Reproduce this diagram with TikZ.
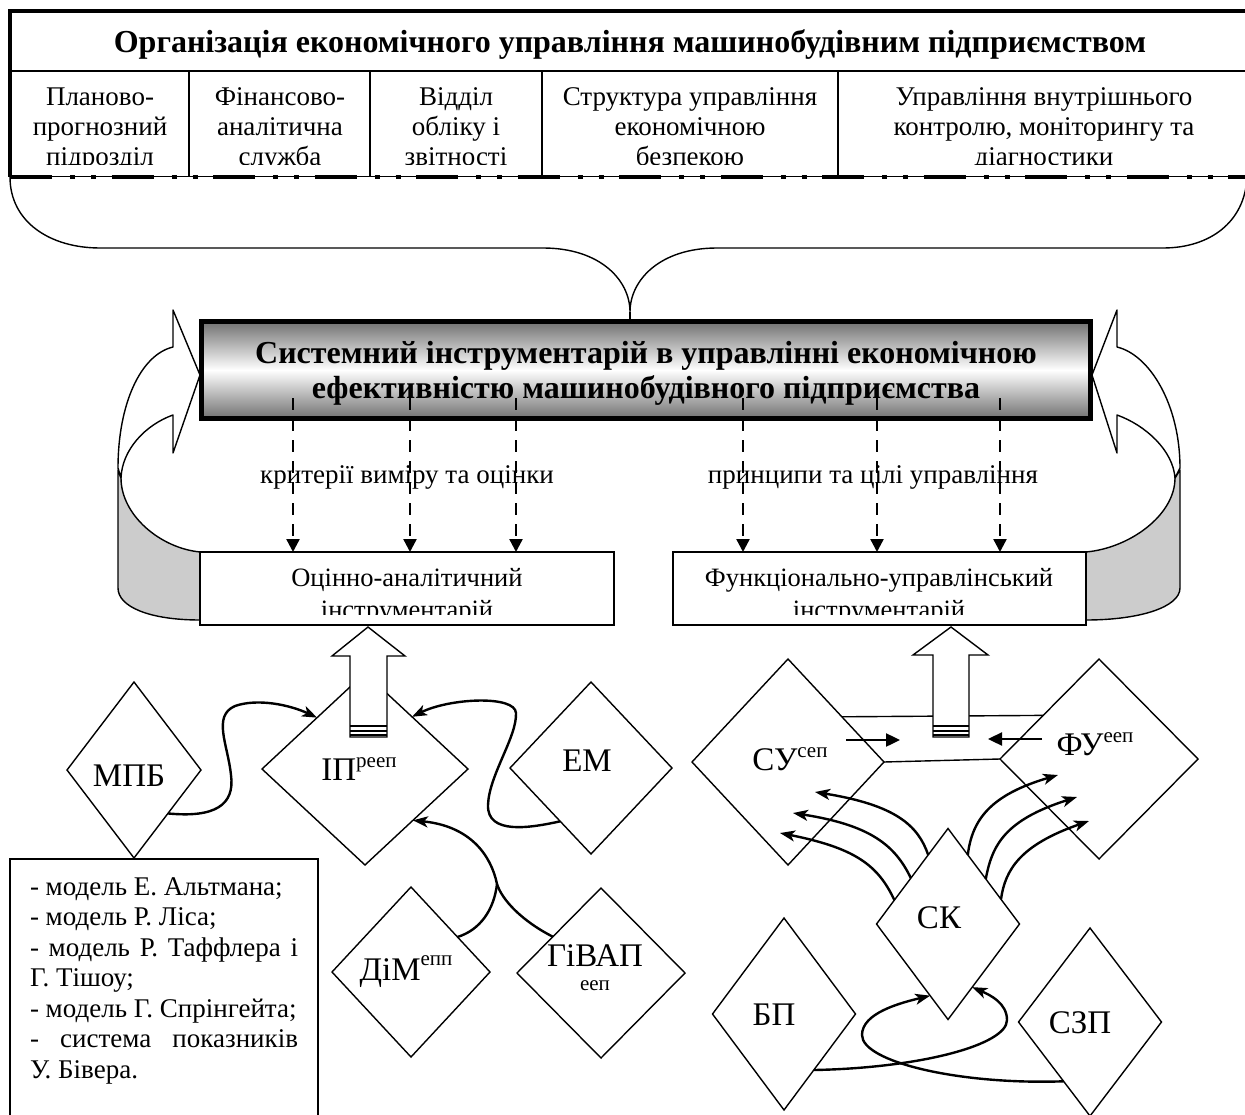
\documentclass[tikz,border=0pt]{standalone}
\usepackage{fontspec}
\setmainfont{Liberation Serif}
\usetikzlibrary{shapes.geometric,arrows.meta,calc}
\newcommand\upidx[2][13pt]{\raisebox{#1}{\fontsize{21}{23}\selectfont #2}}
\begin{document}
\begin{tikzpicture}[x=1pt,y=-1pt,
  every node/.style={inner sep=0pt,outer sep=0pt},
  thinrule/.style={line width=1.4pt},
  dia/.style={draw,shape=diamond,line width=1.4pt,fill=white,inner sep=0pt},
  dtext/.style={anchor=base,font=\fontsize{33}{35}\selectfont},
  cell/.style={anchor=base,font=\fontsize{27}{30}\selectfont},
  boxtext/.style={anchor=base,font=\fontsize{26.5}{31}\selectfont},
  flow/.style={line width=2.4pt,-{Stealth[length=15pt,width=11pt,inset=4pt]}},
  dashflow/.style={line width=2.4pt,dash pattern=on 12pt off 9pt,-{Triangle[length=13pt,width=13pt]}},
  push/.style={line width=2.4pt,-{Triangle[length=14pt,width=13pt]}},
  ribbon/.style={line width=1.4pt,line join=round}]

\useasboundingbox (0,0) rectangle (1245,1115);
\clip (0,0) rectangle (1245,1115);

% ---------- organisation table ----------
\draw[line width=4pt] (1260,11) -- (10,11) -- (10,177);
\draw[thinrule] (10,71) -- (1260,71);
\foreach \cx in {189,370,542,838} \draw[thinrule] (\cx,71) -- (\cx,177);
\node[anchor=base,font=\fontsize{32}{36}\selectfont\bfseries] (title) at (630,53)
  {Організація економічного управління машинобудівним підприємством};
\begin{scope}
  \clip (10,71) rectangle (1260,164.5);
  \node[cell] (c1) at (100,106) {\parbox[t]{178pt}{\centering Планово-\\прогнозний\\підрозділ}};
  \node[cell] (c2) at (280,106) {\parbox[t]{178pt}{\centering Фінансово-\\аналітична\\служба}};
  \node[cell] (c3) at (456,106) {\parbox[t]{170pt}{\centering Відділ\\обліку і\\звітності}};
  \node[cell] (c4) at (690,106) {\parbox[t]{295pt}{\centering Структура управління\\економічною\\безпекою}};
  \node[cell] (c5) at (1044,106) {\parbox[t]{400pt}{\centering Управління внутрішнього\\контролю, моніторингу та\\діагностики}};
\end{scope}
\draw[line width=1pt] (10,177) -- (1260,177);
\draw[line width=4pt,dash pattern=on 42pt off 18pt on 5pt off 16pt on 5pt off 15.5pt] (10,177) -- (1260,177);

% ---------- brace ----------
\coordinate (bt) at (630,312);
\draw[thinrule] (10,177) .. controls (10,222) and (50,248) .. (100,248) -- (543,248)
  .. controls (600,248) and (630,280) .. (bt)
  .. controls (630,280) and (660,248) .. (717,248) -- (1163,248)
  .. controls (1210,248) and (1245,222) .. (1247,177);

% ---------- side ribbons ----------
\draw[ribbon,fill=black!20] (118,470) -- (118,588) .. controls (118,607) and (150,620) .. (200,620)
  -- (200,552) .. controls (160,548) and (121,515) .. (121,478) -- cycle;
\draw[ribbon,fill=white] (200,375) -- (173,310) -- (173,347) .. controls (140,355) and (118,405) .. (118,468)
  -- (121,478) .. controls (122,450) and (145,425) .. (173,415) -- (173,453) -- cycle;
\draw[ribbon,fill=black!20] (1180,470) -- (1180,588) .. controls (1180,607) and (1140,620) .. (1086,620)
  -- (1086,552) .. controls (1130,548) and (1175,515) .. (1175,478) -- cycle;
\draw[ribbon,fill=white] (1092,375) -- (1117,310) -- (1117,347) .. controls (1150,355) and (1180,405) .. (1180,468)
  -- (1175,478) .. controls (1173,450) and (1145,425) .. (1117,415) -- (1117,453) -- cycle;

% ---------- system box ----------
\node[draw,line width=5pt,minimum width=889pt,minimum height=96pt,
  top color=black!55,bottom color=black!55,middle color=white] (sys) at (645.5,370) {};
\draw[thinrule] (bt) -- (bt |- sys.north);
\node[anchor=base,font=\fontsize{32}{35}\selectfont\bfseries] (sysA) at (646,363)
  {Системний інструментарій в управлінні економічною};
\node[anchor=base,font=\fontsize{32}{35}\selectfont\bfseries] (sysB) at (646,398)
  {ефективністю машинобудівного підприємства};

% ---------- two toolkits ----------
\node[draw,line width=2pt,fill=white,minimum width=414pt,minimum height=73pt] (oa) at (407,588.5) {};
\node[draw,line width=2pt,fill=white,minimum width=413pt,minimum height=73pt] (fui) at (879.5,588.5) {};
\begin{scope}
  \clip (195,552) rectangle (1090,614.5);
  \node[boxtext] (oaA) at (407,586) {Оцінно-аналітичний};
  \node[boxtext] (oaB) at (407,618) {інструментарій};
  \node[boxtext] (fuiA) at (879,586) {Функціонально-управлінський};
  \node[boxtext] (fuiB) at (879,618) {інструментарій};
\end{scope}

\node[anchor=base,font=\fontsize{27}{30}\selectfont] (crit) at (407,483) {критерії виміру та оцінки};
\node[anchor=base,font=\fontsize{27}{30}\selectfont] (princ) at (873,483) {принципи та цілі управління};
\foreach \dx in {93,210,316}
  \draw[dashflow] ($(oa.north west |- sys.south)+(\dx,-20)$) -- ($(oa.north west)+(\dx,0)$);
\foreach \dx in {70,204,327}
  \draw[dashflow] ($(fui.north west |- sys.south)+(\dx,-20)$) -- ($(fui.north west)+(\dx,0)$);

% ---------- diamonds ----------
\node[dia,minimum width=134pt,minimum height=176pt] (mpb) at (134,770) {};
\node[dia,minimum width=206pt,minimum height=192pt] (ip) at (365,769) {};
\node[dia,minimum width=162pt,minimum height=172pt] (em) at (591,768) {};
\node[dia,minimum width=158pt,minimum height=170pt] (dim) at (411,972) {};
\node[dia,minimum width=168pt,minimum height=170pt] (givap) at (601,973) {};
\node[dia,minimum width=192pt,minimum height=206pt] (su) at (788,762) {};
\node[dia,minimum width=198pt,minimum height=200pt] (fu) at (1099,759) {};
\node[dia,minimum width=143pt,minimum height=191pt] (sk) at (948,924) {};
\node[dia,minimum width=143pt,minimum height=192pt] (bp) at (784,1014) {};
\node[dia,minimum width=143pt,minimum height=188pt] (szp) at (1090,1022) {};

\node[dtext] (mpbT) at (129,786) {МПБ};
\node[dtext] (ipT) at (359,780) {ІП\upidx{рееп}};
\node[dtext] (emT) at (587,771) {ЕМ};
\node[dtext] (dimT) at (406,980) {ДіМ\upidx[15pt]{епп}};
\node[dtext] (givapT) at (595,966) {ГіВАП};
\node[anchor=base,font=\fontsize{21}{23}\selectfont] (givapS) at (595,990) {ееп};
\node[dtext] (suT) at (790,770) {СУ\upidx{сеп}};
\node[dtext] (fuT) at (1095,755) {ФУ\upidx{ееп}};
\node[dtext] (skT) at (939,928) {СК};
\node[dtext] (bpT) at (774,1025) {БП};
\node[dtext] (szpT) at (1080,1033) {СЗП};

% ---------- link between СУ and ФУ ----------
\draw[thinrule] (su.40) -- (fu.142);
\draw[thinrule] (su.east) -- (fu.west);
\draw[push] ([shift={(58,-22)}]su.center) -- ([shift={(112,-22)}]su.center);
\draw[push] ([shift={(-57,-20)}]fu.center) -- ([shift={(-111,-20)}]fu.center);

% ---------- block arrows into the toolkits ----------
\draw[ribbon,line join=miter,fill=white] (368,627) -- (405,656) -- (387,656) -- (387,737) -- (350,737) -- (350,656) -- (332,656) -- cycle;
\draw[line width=2pt] (350,726) -- (387,726);
\draw[line width=1.2pt] (350,731) -- (387,731);
\draw[line width=2.2pt] (350,735) -- (387,735);
\draw[ribbon,line join=miter,fill=white] (951,627) -- (988,655) -- (969,655) -- (969,737) -- (933,737) -- (933,655) -- (913,655) -- cycle;
\draw[line width=2pt] (933,726) -- (969,726);
\draw[line width=1.2pt] (933,731) -- (969,731);
\draw[line width=2.2pt] (933,735) -- (969,735);

% ---------- curved connectors ----------
\draw[flow] (mpb.-52) .. controls (215,818) and (235,805) .. (231,775)
  .. controls (228,745) and (212,716) .. (235,706) .. controls (258,698) and (290,705) .. (ip.133);
\draw[flow] (em.240) .. controls (530,828) and (487,835) .. (488,805)
  .. controls (489,775) and (517,737) .. (516,713) .. controls (515,695) and (450,698) .. (ip.48);
\coordinate (join) at (497,884);
\draw[flow] (givap.143) .. controls (522,921) and (502,900) .. (join)
  .. controls (491,855) and (470,826) .. (ip.-47);
\draw[line width=2.4pt] (dim.37) .. controls (480,930) and (494,910) .. (join);

\draw[flow] (sk.106) .. controls (918,825) and (895,805) .. ([shift={(27,30)}]su.center);
\draw[flow] (sk.129) .. controls (895,845) and (870,825) .. ([shift={(5,51)}]su.center);
\draw[flow] (sk.156) .. controls (878,865) and (855,848) .. ([shift={(-8,71)}]su.center);
\draw[flow] (sk.74) .. controls (972,820) and (990,795) .. ([shift={(-41,16)}]fu.center);
\draw[flow] (sk.50) .. controls (992,845) and (1005,820) .. ([shift={(-22,38)}]fu.center);
\draw[flow] (sk.25) .. controls (1005,870) and (1020,845) .. ([shift={(-10,62)}]fu.center);

\draw[flow] (bp.-62) .. controls (920,1068) and (1007,1045) .. (1007,1020)
  .. controls (1007,1003) and (990,995) .. (sk.-69);
\draw[flow] (szp.246) .. controls (960,1085) and (862,1062) .. (862,1035)
  .. controls (862,1013) and (900,1003) .. (sk.256);

% ---------- list of models ----------
\node[draw,thinrule,anchor=north west,minimum width=308pt,minimum height=280pt] (models) at (10,859) {};
\node[anchor=base west,font=\fontsize{27}{30.5}\selectfont] (modelsT) at (30,895) {\parbox[t]{268pt}{%
- модель Е. Альтмана;\\
- модель Р. Ліса;\\
\makebox[268pt][s]{- модель Р. Таффлера і}\\
Г. Тішоу;\\
- модель Г. Спрінгейта;\\
\makebox[268pt][s]{- система показників}\\
У. Бівера.}};
\end{tikzpicture}
\end{document}
